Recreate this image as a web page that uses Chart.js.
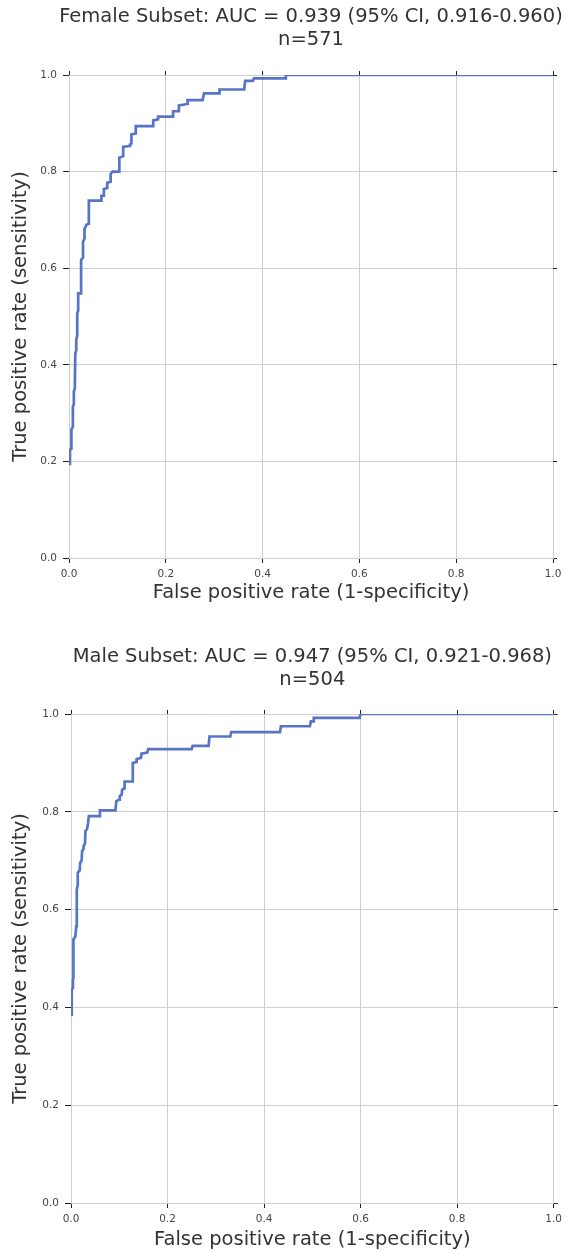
<!DOCTYPE html>
<html>
<head>
<meta charset="utf-8">
<script src="https://cdn.jsdelivr.net/npm/chart.js@4"></script>
<style>
  body { margin: 0; background: #fff; }
  .box { position: absolute; left: 0; }
</style>
</head>
<body>
<div class="box" style="top:0"><canvas id="femaleChart" width="567" height="626"></canvas></div>
<div class="box" style="top:626px"><canvas id="maleChart" width="567" height="627"></canvas></div>
<script>
// ROC curve vertices
const femaleFpr = [0.000, 0.002, 0.002, 0.005, 0.005, 0.008, 0.008, 0.010, 0.010, 0.012, 0.013, 0.015, 0.015, 0.017, 0.017, 0.019, 0.019, 0.025, 0.025, 0.029, 0.029, 0.032, 0.032, 0.036, 0.041, 0.041, 0.067, 0.067, 0.072, 0.072, 0.079, 0.079, 0.086, 0.086, 0.090, 0.104, 0.104, 0.112, 0.112, 0.124, 0.126, 0.129, 0.129, 0.138, 0.138, 0.174, 0.174, 0.184, 0.184, 0.215, 0.215, 0.227, 0.227, 0.245, 0.245, 0.276, 0.279, 0.311, 0.311, 0.362, 0.364, 0.380, 0.382, 0.448, 0.448, 1.000];
const femaleTpr = [0.195, 0.195, 0.224, 0.226, 0.266, 0.272, 0.314, 0.318, 0.345, 0.350, 0.424, 0.430, 0.452, 0.460, 0.507, 0.512, 0.548, 0.548, 0.617, 0.622, 0.655, 0.661, 0.681, 0.690, 0.692, 0.740, 0.740, 0.750, 0.750, 0.764, 0.766, 0.777, 0.779, 0.795, 0.800, 0.800, 0.829, 0.832, 0.851, 0.853, 0.856, 0.858, 0.877, 0.879, 0.894, 0.894, 0.906, 0.908, 0.914, 0.914, 0.925, 0.925, 0.937, 0.940, 0.948, 0.948, 0.962, 0.962, 0.970, 0.970, 0.988, 0.988, 0.993, 0.993, 1.000, 1.000];

const maleFpr = [0.000, 0.001, 0.002, 0.004, 0.004, 0.005, 0.005, 0.009, 0.011, 0.012, 0.012, 0.014, 0.014, 0.018, 0.019, 0.022, 0.023, 0.026, 0.026, 0.029, 0.030, 0.033, 0.035, 0.037, 0.059, 0.060, 0.092, 0.094, 0.100, 0.101, 0.105, 0.106, 0.110, 0.111, 0.127, 0.128, 0.135, 0.136, 0.145, 0.146, 0.158, 0.160, 0.250, 0.252, 0.285, 0.287, 0.330, 0.332, 0.433, 0.435, 0.495, 0.497, 0.502, 0.503, 0.598, 0.600, 1.000];
const maleTpr = [0.385, 0.385, 0.436, 0.440, 0.457, 0.460, 0.539, 0.545, 0.566, 0.570, 0.641, 0.650, 0.676, 0.680, 0.696, 0.700, 0.720, 0.724, 0.730, 0.735, 0.761, 0.764, 0.775, 0.791, 0.791, 0.803, 0.803, 0.822, 0.825, 0.832, 0.835, 0.845, 0.848, 0.862, 0.862, 0.900, 0.902, 0.908, 0.910, 0.919, 0.921, 0.928, 0.928, 0.935, 0.935, 0.954, 0.954, 0.963, 0.963, 0.975, 0.975, 0.985, 0.985, 0.992, 0.992, 1.000, 1.000];

const tickLabels = ['0.0', '0.2', '0.4', '0.6', '0.8', '1.0'];
const femaleTitle = ['Female Subset: AUC = 0.939 (95% CI, 0.916-0.960)', 'n=571'];
const maleTitle = ['Male Subset: AUC = 0.947 (95% CI, 0.921-0.968)', 'n=504'];
const xLabel = 'False positive rate (1-specificity)';
const yLabel = 'True positive rate (sensitivity)';

const FONT = 'DejaVu Sans';
const textColor = '#333333';
const gridColor = '#cfcfcf';
const tickColor = '#222222';
const lineColor = '#5874c6';

function tickText(v) {
    const i = Math.round(v / 0.2);
    return tickLabels[i] !== undefined ? tickLabels[i] : '';
}

// title centred over the plot area like matplotlib (the built-in one squeezes long text)
const axesTitle = {
    id: 'axesTitle',
    afterDraw(chart, args, opts) {
        const { ctx, chartArea } = chart;
        const cx = (chartArea.left + chartArea.right) / 2;
        ctx.save();
        ctx.font = '19.5px "' + FONT + '"';
        ctx.fillStyle = textColor;
        ctx.textAlign = 'center';
        ctx.textBaseline = 'middle';
        opts.lines.forEach((line, i) => {
            ctx.fillText(line, cx, opts.y + i * 23.4);
        });
        ctx.restore();
    }
};

function drawRoc(id, title, fpr, tpr, g) {
    const points = fpr.map((x, i) => ({ x: x, y: tpr[i] }));

    new Chart(document.getElementById(id), {
        type: 'line',
        data: {
            datasets: [{
                data: points,
                borderColor: lineColor,
                borderWidth: 2.7,
                pointRadius: 0,
                tension: 0,
                fill: false,
                clip: 0
            }]
        },
        plugins: [axesTitle],
        options: {
            responsive: false,
            animation: false,
            layout: { padding: { left: 0, right: g.padRight, top: g.top, bottom: 0 } },
            plugins: {
                legend: { display: false },
                tooltip: { enabled: false },
                title: { display: false },
                axesTitle: { lines: title, y: g.titleY }
            },
            scales: {
                x: {
                    type: 'linear', min: 0, max: 1,
                    afterFit: s => { s.height = g.xAxisHeight; },
                    ticks: { stepSize: 0.2, callback: tickText, color: '#444', font: { family: FONT, size: 10.5 }, padding: 5, maxRotation: 0 },
                    grid: { color: gridColor, tickColor: tickColor, tickLength: 5 },
                    border: { color: gridColor },
                    title: { display: true, text: xLabel, color: textColor, font: { family: FONT, size: 19.5, lineHeight: 1.2 }, padding: { top: 0, bottom: g.xTitleBottom } }
                },
                y: {
                    type: 'linear', min: 0, max: 1,
                    afterFit: s => { s.width = g.yAxisWidth; },
                    ticks: { stepSize: 0.2, callback: tickText, color: '#444', font: { family: FONT, size: 10.5 }, padding: 6 },
                    grid: { color: gridColor, tickColor: tickColor, tickLength: 6 },
                    border: { color: gridColor },
                    title: { display: true, text: yLabel, color: textColor, font: { family: FONT, size: 19.5, lineHeight: 1.2 }, padding: { top: 8.8, bottom: 0 } }
                },
                xTop: {
                    type: 'linear', position: 'top', min: 0, max: 1,
                    afterFit: s => { s.height = 0; },
                    ticks: { stepSize: 0.2, display: false },
                    grid: { drawOnChartArea: false, tickColor: tickColor, tickLength: 4 },
                    border: { display: false }
                },
                yRight: {
                    type: 'linear', position: 'right', min: 0, max: 1,
                    afterFit: s => { s.width = 0; },
                    ticks: { stepSize: 0.2, display: false },
                    grid: { drawOnChartArea: false, tickColor: tickColor, tickLength: 4 },
                    border: { display: false }
                }
            }
        }
    });
}

drawRoc('femaleChart', femaleTitle, femaleFpr, femaleTpr, {
    padRight: 14, top: 75, titleY: 17, xAxisHeight: 68, xTitleBottom: 21.3, yAxisWidth: 69
});
drawRoc('maleChart', maleTitle, maleFpr, maleTpr, {
    padRight: 10, top: 88, titleY: 31, xAxisHeight: 50, xTitleBottom: 1.3, yAxisWidth: 71
});
</script>
</body>
</html>
